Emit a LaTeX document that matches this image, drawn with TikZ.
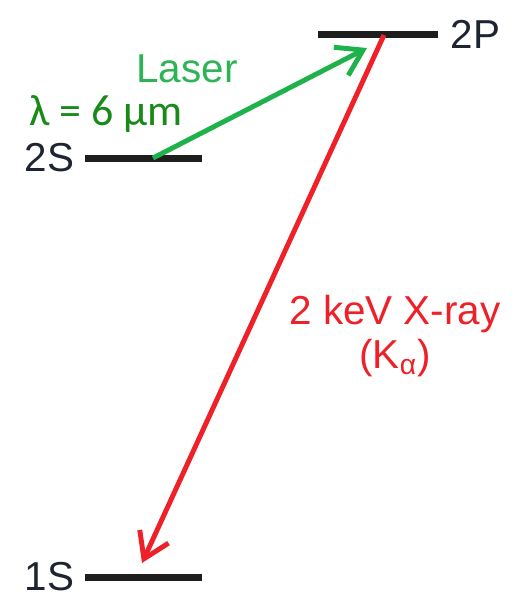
\documentclass[tikz,border=0pt]{standalone}
\usepackage{fontspec}
\setmainfont{Liberation Sans}
\newfontfamily\calfont{Carlito}
\usetikzlibrary{arrows.meta,positioning}
\definecolor{levelblack}{HTML}{1E1E1E}
\definecolor{labelink}{HTML}{1F2433}
\definecolor{lasergreen}{HTML}{1FB24A}
\definecolor{lasertext}{HTML}{2EB457}
\definecolor{lambdagreen}{HTML}{178A17}
\definecolor{xrayred}{HTML}{EE2028}

\tikzset{
  level/.style={fill=levelblack,minimum width=117*0.02cm,minimum height=7*0.02cm,inner sep=0pt},
  statelabel/.style={text=labelink,font=\fontsize{23}{27}\selectfont,inner sep=0pt},
  transition/.style={line width=2.8pt,-{Straight Barb[length=14pt,width=18pt]}}
}

\begin{document}
\begin{tikzpicture}[x=0.02cm,y=-0.02cm]
  \useasboundingbox (0,0) rectangle (519,599);

  % energy levels
  \node[level] (lvl2S) at (143.5,158) {};
  \node[level,minimum width=120*0.02cm] (lvl2P) at (378,34) {};
  \node[level] (lvl1S) at (143.5,577) {};

  \node[statelabel,left=10*0.02cm of lvl2S] (txt2S) {2S};
  \node[statelabel,right=12*0.02cm of lvl2P] (txt2P) {2P};
  \node[statelabel,left=10*0.02cm of lvl1S] (txt1S) {1S};

  % transitions
  \coordinate (laserstart) at (153,158);
  \coordinate (laserend) at (367,48);
  \coordinate (xraystart) at (384,35);
  \coordinate (xrayend) at (142,563);
  \draw[transition,lasergreen] (laserstart) -- (laserend);
  \draw[transition,xrayred] (xraystart) -- (xrayend);

  \node[text=lasertext,font=\fontsize{23}{27}\selectfont] (lasertxt) at (187,69) {Laser};
  \node[text=lambdagreen,font=\calfont\fontsize{25}{30}\selectfont] (lambdatxt) at (106,114) {λ = 6 µm};
  \node[text=xrayred,font=\fontsize{23}{27}\selectfont,align=center] (xraytxt) at (395,336) {2 keV X-ray\\[-2pt](K\textsubscript{α})};
\end{tikzpicture}
\end{document}
